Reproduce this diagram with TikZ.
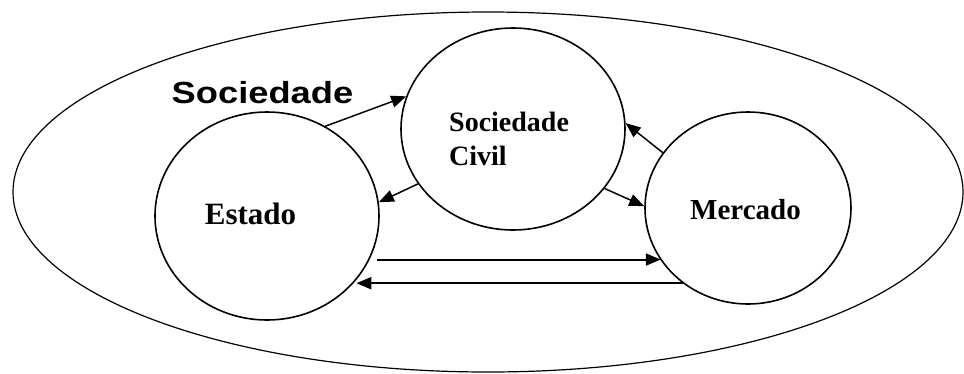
\documentclass[tikz,border=0pt]{standalone}
\usepackage{fontspec}
\setmainfont{Liberation Serif}
\newfontfamily\arialfont{Liberation Sans}
\usetikzlibrary{shapes.geometric,arrows.meta}
\begin{document}
\begin{tikzpicture}[x=1pt,y=-1pt,
  circ/.style={draw, shape=ellipse, line width=1.6pt, inner sep=0pt},
  arr/.style={line width=1.5pt, -{Triangle[length=15pt,width=12pt]}},
  harr/.style={line width=2pt, -{Triangle[length=15pt,width=12pt]}},
  lbl/.style={inner sep=0pt, anchor=base}]
\useasboundingbox (0,0) rectangle (964,373);
% outer society ellipse
\node[circ, line width=1.2pt, minimum width=950pt, minimum height=360pt] (soc) at (488,192) {};
% inner ellipses
\node[circ, minimum width=224pt, minimum height=208pt] (estado) at (267,216) {};
\node[circ, minimum width=224pt, minimum height=202pt] (civil) at (513,129) {};
\node[circ, minimum width=206pt, minimum height=192pt] (mercado) at (748,208) {};
% labels
\node[lbl, font=\arialfont\bfseries\fontsize{30.5}{34}\selectfont] (socT) at (262.5,103.5) {\scalebox{1.19}[1]{Sociedade}};
\node[lbl, font=\bfseries\fontsize{31}{34}\selectfont] (estadoT) at (250.5,224) {Estado};
\node[lbl, font=\bfseries\fontsize{29}{34}\selectfont] (mercadoT) at (745.5,219) {Mercado};
\node[inner sep=0pt, anchor=base west, align=left, font=\bfseries\fontsize{28}{34}\selectfont] (civilT) at (449,165) {Sociedade\\Civil};
% arrows
\draw[arr] (estado.57) -- (civil.163.9);
\draw[arr] (civil.210.6) -- (estado.7.1);
\draw[arr] (mercado.147.6) -- (civil.3.5);
\draw[arr] (civil.-33.2) -- (mercado.179);
\draw[harr] ([xshift=7pt]estado.-23.3) -- (estado.-23.3 -| mercado.211.2);
\draw[harr] (mercado.229.4) -- ([xshift=3pt]mercado.229.4 -| estado.-38);
\end{tikzpicture}
\end{document}
